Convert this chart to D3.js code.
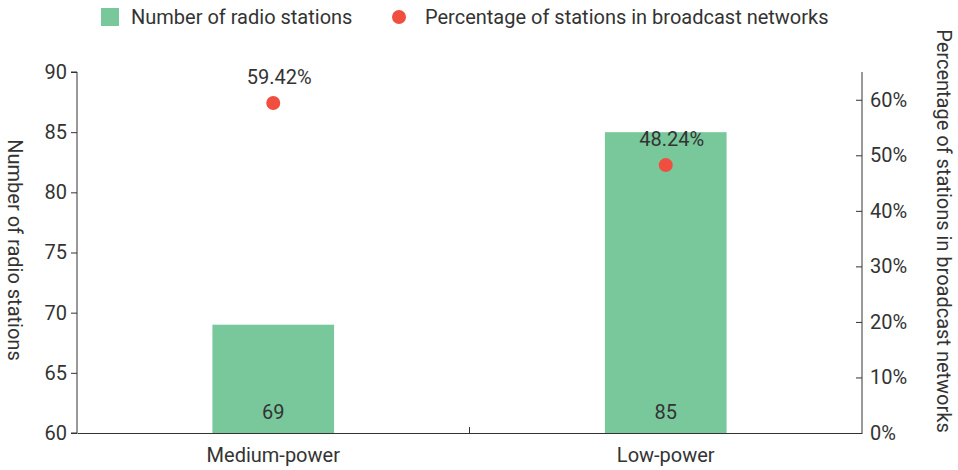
<!DOCTYPE html>
<html>
<head>
<meta charset="utf-8">
<script src="https://cdn.jsdelivr.net/npm/d3@7"></script>
<style>
  html, body { margin: 0; padding: 0; background: #fff; }
  svg { display: block; font-family: Roboto, "Noto Sans", sans-serif; }
</style>
</head>
<body>
<svg id="chart" width="958" height="470"></svg>
<script>
// Radio stations by transmitter power class
const categories = ["Medium-power", "Low-power"];
const stationCounts = [69, 85];
const networkShares = [59.42, 48.24];   // percent of stations in broadcast networks
const leftTicks = [60, 65, 70, 75, 80, 85, 90];
const rightTicks = [0, 10, 20, 30, 40, 50, 60];
const seriesNames = ["Number of radio stations", "Percentage of stations in broadcast networks"];

const barColor = "#79C89B";
const dotColor = "#F04F3F";
const textColor = "#333";
const axisColor = "#333";
const fs = 20;

const svg = d3.select("#chart");
const margin = { left: 77, right: 96, top: 72, bottom: 37 };
const W = 958, H = 470;
const x0 = margin.left, x1 = W - margin.right;
const y0 = H - margin.bottom, y1 = margin.top;

const x = d3.scaleBand().domain(categories).range([x0, x1]).padding(0);
const yL = d3.scaleLinear().domain([60, 90]).range([y0, y1]);
const yR = d3.scaleLinear().domain([0, 65]).range([y0, y1]);
const barW = x.bandwidth() * 0.31;

// Bars
svg.append("g").selectAll("rect")
  .data(categories)
  .join("rect")
  .attr("x", (d) => x(d) + x.bandwidth() / 2 - barW / 2)
  .attr("y", (d, i) => yL(stationCounts[i]))
  .attr("width", barW)
  .attr("height", (d, i) => y0 - yL(stationCounts[i]))
  .attr("fill", barColor);

// Bar value labels near the base
svg.append("g").selectAll("text")
  .data(categories)
  .join("text")
  .attr("x", (d) => x(d) + x.bandwidth() / 2)
  .attr("y", y0 - 14)
  .attr("text-anchor", "middle")
  .attr("font-size", fs)
  .attr("fill", textColor)
  .text((d, i) => stationCounts[i]);

// Left axis
const gL = svg.append("g")
  .attr("transform", `translate(${x0},0)`)
  .call(d3.axisLeft(yL).tickValues(leftTicks).tickSize(6).tickPadding(4));
// Right axis (ticks pointing inward)
const gR = svg.append("g")
  .attr("transform", `translate(${x1},0)`)
  .call(d3.axisRight(yR).tickValues(rightTicks).tickSize(0).tickPadding(8)
        .tickFormat((d) => d + "%"));
gR.selectAll(".tick").append("line")
  .attr("x1", -6).attr("x2", 0).attr("stroke", axisColor);
// Bottom axis with a divider tick between categories
const gB = svg.append("g")
  .attr("transform", `translate(0,${y0})`)
  .call(d3.axisBottom(x).tickSize(0).tickPadding(15));
gB.append("line")
  .attr("x1", x(categories[1])).attr("x2", x(categories[1]))
  .attr("y1", 0).attr("y2", -6)
  .attr("stroke", axisColor);

[gL, gR, gB].forEach((g) => {
  g.selectAll(".domain").attr("stroke", axisColor);
  g.selectAll(".tick line").attr("stroke", axisColor);
  g.selectAll("text").attr("font-size", fs).attr("fill", textColor)
    .attr("font-family", "Roboto, 'Noto Sans', sans-serif");
});
gL.select(".domain").attr("d", `M-6,${y1}H0V${y0}H-6`);
gR.select(".domain").attr("d", `M0,${y1}V${y0}`);

// Percentage dots and labels
svg.append("g").selectAll("circle")
  .data(categories)
  .join("circle")
  .attr("cx", (d) => x(d) + x.bandwidth() / 2)
  .attr("cy", (d, i) => yR(networkShares[i]))
  .attr("r", 7)
  .attr("fill", dotColor);

svg.append("g").selectAll("text")
  .data(categories)
  .join("text")
  .attr("x", (d) => x(d) + x.bandwidth() / 2 + 6)
  .attr("y", (d, i) => yR(networkShares[i]) - 19)
  .attr("text-anchor", "middle")
  .attr("font-size", fs)
  .attr("fill", textColor)
  .text((d, i) => networkShares[i].toFixed(2) + "%");

// Axis titles
svg.append("text")
  .attr("transform", `translate(8,250) rotate(90)`)
  .attr("text-anchor", "middle")
  .attr("font-size", fs)
  .attr("fill", textColor)
  .text(seriesNames[0]);
svg.append("text")
  .attr("transform", `translate(937,231) rotate(90)`)
  .attr("text-anchor", "middle")
  .attr("font-size", fs)
  .attr("fill", textColor)
  .text(seriesNames[1]);

// Legend
const legend = svg.append("g");
legend.append("rect")
  .attr("x", 101).attr("y", 8).attr("width", 18).attr("height", 18)
  .attr("fill", barColor);
legend.append("text")
  .attr("x", 131).attr("y", 24)
  .attr("font-size", fs).attr("fill", textColor)
  .text(seriesNames[0]);
legend.append("circle")
  .attr("cx", 399).attr("cy", 17).attr("r", 7)
  .attr("fill", dotColor);
legend.append("text")
  .attr("x", 425).attr("y", 24)
  .attr("font-size", fs).attr("fill", textColor)
  .text(seriesNames[1]);
</script>
</body>
</html>
